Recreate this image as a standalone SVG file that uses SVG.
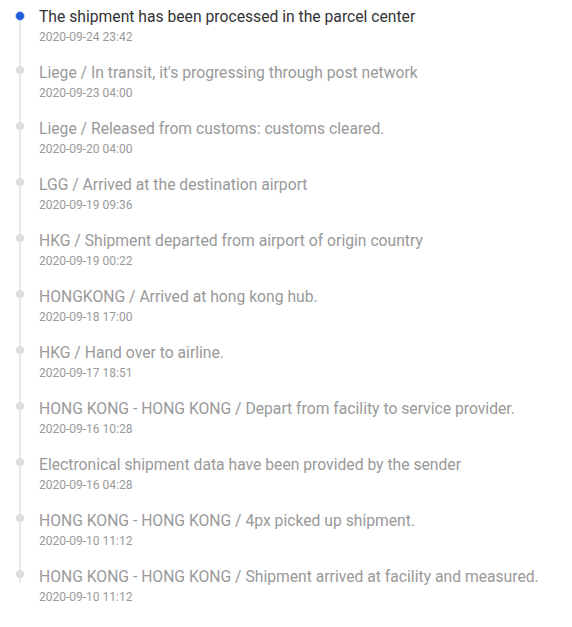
<svg xmlns="http://www.w3.org/2000/svg" width="572" height="627" viewBox="0 0 572 627">
<style>
.t{font-family:Roboto,"Liberation Sans",sans-serif;font-size:15.7px;fill:#999}
.t.cur{fill:#333}
.d{font-family:Roboto,"Liberation Sans",sans-serif;font-size:12px;fill:#999}
.dot{fill:#ddd}
</style>
<rect width="572" height="627" fill="#fff"/>
<g id="connectors"><line x1="20" y1="16" x2="20" y2="583" stroke="#e8e8e8" stroke-width="2"/></g>
<g id="n1"><circle cx="20" cy="16" r="4.5" fill="#1b5fd8" stroke="#c6d8f6" stroke-width="1"/><text class="t cur" x="39" y="21.5">The shipment has been processed in the parcel center</text><text class="d" x="39" y="40.5">2020-09-24 23:42</text></g>
<g id="n2"><circle class="dot" cx="20" cy="70" r="4"/><text class="t" x="39" y="77.5">Liege / In transit, it's progressing through post network</text><text class="d" x="39" y="96.5">2020-09-23 04:00</text></g>
<g id="n3"><circle class="dot" cx="20" cy="126" r="4"/><text class="t" x="39" y="133.5">Liege / Released from customs: customs cleared.</text><text class="d" x="39" y="152.5">2020-09-20 04:00</text></g>
<g id="n4"><circle class="dot" cx="20" cy="182" r="4"/><text class="t" x="39" y="189.5">LGG / Arrived at the destination airport</text><text class="d" x="39" y="208.5">2020-09-19 09:36</text></g>
<g id="n5"><circle class="dot" cx="20" cy="238" r="4"/><text class="t" x="39" y="245.5">HKG / Shipment departed from airport of origin country</text><text class="d" x="39" y="264.5">2020-09-19 00:22</text></g>
<g id="n6"><circle class="dot" cx="20" cy="294" r="4"/><text class="t" x="39" y="301.5">HONGKONG / Arrived at hong kong hub.</text><text class="d" x="39" y="320.5">2020-09-18 17:00</text></g>
<g id="n7"><circle class="dot" cx="20" cy="350" r="4"/><text class="t" x="39" y="357.5">HKG / Hand over to airline.</text><text class="d" x="39" y="376.5">2020-09-17 18:51</text></g>
<g id="n8"><circle class="dot" cx="20" cy="406" r="4"/><text class="t" x="39" y="413.5">HONG KONG - HONG KONG / Depart from facility to service provider.</text><text class="d" x="39" y="432.5">2020-09-16 10:28</text></g>
<g id="n9"><circle class="dot" cx="20" cy="462" r="4"/><text class="t" x="39" y="469.5">Electronical shipment data have been provided by the sender</text><text class="d" x="39" y="488.5">2020-09-16 04:28</text></g>
<g id="n10"><circle class="dot" cx="20" cy="518" r="4"/><text class="t" x="39" y="525.5">HONG KONG - HONG KONG / 4px picked up shipment.</text><text class="d" x="39" y="544.5">2020-09-10 11:12</text></g>
<g id="n11"><circle class="dot" cx="20" cy="574" r="4"/><text class="t" x="39" y="581.5">HONG KONG - HONG KONG / Shipment arrived at facility and measured.</text><text class="d" x="39" y="600.5">2020-09-10 11:12</text></g>
</svg>
